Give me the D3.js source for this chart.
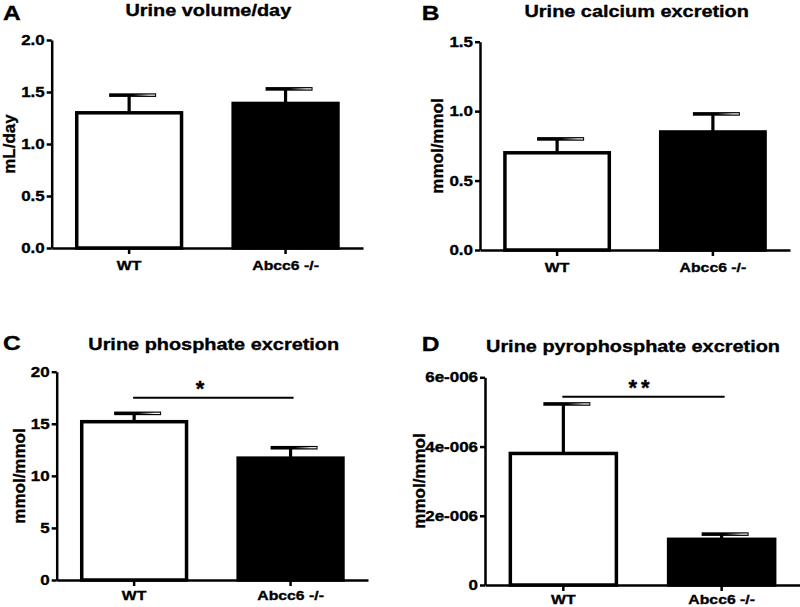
<!DOCTYPE html>
<html><head><meta charset="utf-8">
<script src="https://cdn.jsdelivr.net/npm/d3@7"></script>
<style>
body{margin:0;background:#fff}
svg{display:block}
text{font-family:"Liberation Sans",Arial,Helvetica,sans-serif;font-weight:bold;fill:#000;stroke:#000;stroke-width:0.35px}
</style>
</head><body>
<svg id="c" width="800" height="607"></svg>
<script>
// ---------- data ----------
const categories = ["WT", "Abcc6 -/-"];
const panelLetters = ["A", "B", "C", "D"];
const titles = ["Urine volume/day", "Urine calcium excretion", "Urine phosphate excretion", "Urine pyrophosphate excretion"];
const yLabels = ["mL/day", "mmol/mmol", "mmol/mmol", "mmol/mmol"];

const volumeMean = [1.30, 1.39];
const volumeSem = [0.17, 0.14];
const calciumMean = [0.70, 0.85];
const calciumSem = [0.10, 0.13];
const phosphateMean = [15.2, 11.7];
const phosphateSem = [0.8, 1.0];
const pyroMean = [3.80e-6, 1.32e-6];
const pyroSem = [1.43e-6, 0.15e-6];

const volumeTicks = [0, 0.5, 1.0, 1.5, 2.0];
const calciumTicks = [0, 0.5, 1.0, 1.5];
const phosphateTicks = [0, 5, 10, 15, 20];
const pyroTicks = [0, 2e-6, 4e-6, 6e-6];

const phosphateSig = {label: "*", value: 17.5};
const pyroSig = {label: "**", value: 5.44e-6};

// ---------- formatting ----------
const fmt1 = d3.format(".1f");
const fmt0 = d3.format("d");
const fmtE = d => {
  if (d === 0) return "0";
  const [m, e] = d.toExponential(0).split("e");
  const sign = e[0] === "-" ? "-" : "+";
  return m + "e" + sign + String(Math.abs(+e)).padStart(3, "0");
};

const panels = [
  {mean: volumeMean, sem: volumeSem, ticks: volumeTicks, fmt: fmt1, sig: null},
  {mean: calciumMean, sem: calciumSem, ticks: calciumTicks, fmt: fmt1, sig: null},
  {mean: phosphateMean, sem: phosphateSem, ticks: phosphateTicks, fmt: fmt0, sig: phosphateSig},
  {mean: pyroMean, sem: pyroSem, ticks: pyroTicks, fmt: fmtE, sig: pyroSig}
];

// ---------- layout ----------
const layout = [
  {x0: 51.7, x1: 363, y0: 248, y1: 40, titleX: 208.3, titleY: 16, letterX: 3, letterY: 19.5, ylabX: 15, ylabY: 144, xlabY: 270},
  {x0: 480, x1: 790, y0: 250, y1: 41.7, titleX: 636.7, titleY: 16.7, letterX: 421.7, letterY: 20, ylabX: 443, ylabY: 146, xlabY: 271.5},
  {x0: 56.7, x1: 368, y0: 580, y1: 371.7, titleX: 213.7, titleY: 350, letterX: 3, letterY: 350, ylabX: 25, ylabY: 476, xlabY: 600, sigTextX: 200},
  {x0: 485, x1: 800, y0: 585, y1: 377.3, titleX: 633, titleY: 352, letterX: 421.7, letterY: 350.5, ylabX: 425, ylabY: 481, xlabY: 604, sigTextX: 641}
];

const SX = 1.17; // horizontal widening of the original bold font
const svg = d3.select("#c");
svg.append("rect").attr("width", 800).attr("height", 607).attr("fill", "#fff");

const defs = svg.append("defs");
const grad = defs.append("linearGradient").attr("id", "capg").attr("x1", "0").attr("x2", "1").attr("y1", "0").attr("y2", "0");
grad.append("stop").attr("offset", "0").attr("stop-color", "#fff").attr("stop-opacity", 0);
grad.append("stop").attr("offset", "0.75").attr("stop-color", "#fff").attr("stop-opacity", 1);
grad.append("stop").attr("offset", "1").attr("stop-color", "#fff").attr("stop-opacity", 1);

function sText(g, str, x, y, size, anchor, rot) {
  return g.append("text")
    .attr("transform", `translate(${x},${y})` + (rot ? ` rotate(${rot})` : "") + (rot ? "" : ` scale(${SX},1)`))
    .attr("text-anchor", anchor)
    .attr("font-size", size)
    .text(str);
}

panels.forEach((p, i) => {
  const L = layout[i];
  const g = svg.append("g");
  const x = d3.scaleBand().domain(categories).range([L.x0, L.x1]).paddingInner(0.33).paddingOuter(0.16);
  const y = d3.scaleLinear().domain([p.ticks[0], p.ticks[p.ticks.length - 1]]).range([L.y0, L.y1]);

  // bars
  g.selectAll("rect.bar").data(categories).join("rect")
    .attr("class", "bar")
    .attr("x", d => x(d))
    .attr("width", x.bandwidth())
    .attr("y", (d, k) => y(p.mean[k]))
    .attr("height", (d, k) => L.y0 - y(p.mean[k]))
    .attr("fill", (d, k) => k === 0 ? "#fff" : "#000")
    .attr("stroke", "#000")
    .attr("stroke-width", 3.5);

  // error bars
  categories.forEach((c, k) => {
    const cx = x(c) + x.bandwidth() / 2;
    const yt = y(p.mean[k] + p.sem[k]);
    g.append("line").attr("x1", cx).attr("x2", cx).attr("y1", y(p.mean[k])).attr("y2", yt)
      .attr("stroke", "#000").attr("stroke-width", 3.2);
    g.append("rect").attr("x", cx - 20).attr("width", 47).attr("y", yt - 1.8).attr("height", 3.6).attr("fill", "#000");
    g.append("rect").attr("x", cx + 4).attr("width", 22).attr("y", yt - 0.6).attr("height", 1.2).attr("fill", "url(#capg)");
  });

  // y axis
  const ya = g.append("g").attr("transform", `translate(${L.x0},0)`)
    .call(d3.axisLeft(y).tickValues(p.ticks).tickFormat(p.fmt).tickSize(5).tickPadding(1).tickSizeOuter(0));
  ya.select(".domain").attr("stroke-width", 2.5);
  ya.selectAll(".tick line").attr("stroke-width", 2.5);
  ya.selectAll(".tick text").each(function () {
    const t = d3.select(this);
    const xx = +t.attr("x");
    t.attr("x", 0).attr("transform", `translate(${xx - 1},0) scale(${SX},1)`)
      .attr("font-size", 14.5).attr("font-family", null);
  });

  // x axis
  const xa = g.append("g").attr("transform", `translate(0,${L.y0})`)
    .call(d3.axisBottom(x).tickSize(6).tickSizeOuter(0).tickFormat(""));
  xa.select(".domain").attr("stroke-width", 2.5);
  xa.selectAll(".tick line").attr("stroke-width", 2.5);
  categories.forEach(c => sText(g, c, x(c) + x.bandwidth() / 2, L.xlabY, 13.5, "middle"));

  // texts
  sText(g, titles[i], L.titleX, L.titleY, 17, "middle");
  sText(g, panelLetters[i], L.letterX, L.letterY, 21, "start");
  sText(g, yLabels[i], L.ylabX, L.ylabY, 17, "middle", -90);

  // significance
  if (p.sig) {
    const xa0 = x(categories[0]) + x.bandwidth() / 2 - 1;
    const xa1 = x(categories[1]) + x.bandwidth() / 2 + 3;
    const ys = y(p.sig.value);
    g.append("line").attr("x1", xa0).attr("x2", xa1).attr("y1", ys).attr("y2", ys)
      .attr("stroke", "#000").attr("stroke-width", 2);
    g.append("text").attr("x", L.sigTextX).attr("y", ys - 2).attr("text-anchor", "middle")
      .attr("font-size", 22).attr("letter-spacing", p.sig.label.length > 1 ? 4 : 0)
      .text(p.sig.label);
  }
});
</script>
</body></html>
